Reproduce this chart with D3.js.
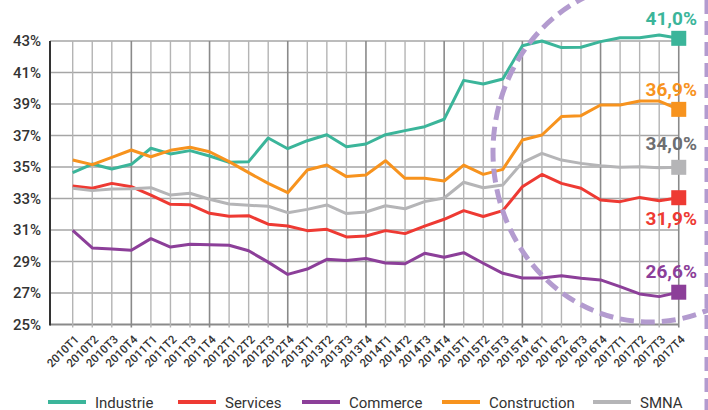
<!DOCTYPE html>
<html>
<head>
<meta charset="utf-8">
<script src="https://cdn.jsdelivr.net/npm/d3@7"></script>
<style>
  body { margin: 0; background: #fff; }
  svg { display: block; font-family: Roboto, "Open Sans", sans-serif; }
</style>
</head>
<body>
<svg id="chart" width="708" height="410"></svg>
<script>
// Quarters shown on the x axis.
var quarters = [
  '2010T1', '2010T2', '2010T3', '2010T4', '2011T1', '2011T2', '2011T3', '2011T4',
  '2012T1', '2012T2', '2012T3', '2012T4', '2013T1', '2013T2', '2013T3', '2013T4',
  '2014T1', '2014T2', '2014T3', '2014T4', '2015T1', '2015T2', '2015T3', '2015T4',
  '2016T1', '2016T2', '2016T3', '2016T4', '2017T1', '2017T2', '2017T3', '2017T4'
];

// Values (%).
var industrie = [34.64, 35.19, 34.87, 35.17, 36.19, 35.83, 36.04, 35.70, 35.30, 35.34, 36.84, 36.16,
  36.67, 37.05, 36.29, 36.46, 37.05, 37.31, 37.56, 38.03, 40.50, 40.27, 40.59, 42.70,
  43.00, 42.58, 42.60, 42.96, 43.21, 43.21, 43.38, 43.17];
var services = [33.79, 33.65, 33.96, 33.75, 33.22, 32.63, 32.61, 32.06, 31.87, 31.91, 31.37, 31.25,
  30.96, 31.04, 30.56, 30.62, 30.96, 30.77, 31.25, 31.68, 32.23, 31.86, 32.23, 33.75,
  34.53, 33.96, 33.65, 32.90, 32.80, 33.07, 32.86, 33.05];
var commerce = [30.98, 29.86, 29.79, 29.71, 30.45, 29.92, 30.09, 30.07, 30.03, 29.68, 28.96, 28.18,
  28.52, 29.14, 29.07, 29.19, 28.90, 28.86, 29.52, 29.27, 29.56, 28.89, 28.25, 27.95,
  27.95, 28.10, 27.93, 27.83, 27.40, 26.94, 26.77, 27.05];
var construction = [35.44, 35.15, 35.61, 36.08, 35.65, 36.06, 36.25, 35.97, 35.34, 34.64, 33.96, 33.37,
  34.81, 35.13, 34.39, 34.49, 35.40, 34.28, 34.28, 34.11, 35.12, 34.53, 34.85, 36.71,
  37.03, 38.20, 38.26, 38.94, 38.94, 39.19, 39.19, 38.66];
var smna = [33.65, 33.50, 33.60, 33.62, 33.69, 33.22, 33.33, 32.95, 32.65, 32.57, 32.51, 32.10,
  32.31, 32.59, 32.04, 32.14, 32.54, 32.35, 32.80, 33.03, 34.03, 33.68, 33.86, 35.28,
  35.87, 35.44, 35.23, 35.08, 34.98, 35.02, 34.96, 34.98];

var seriesNames = ['Industrie', 'Services', 'Commerce', 'Construction', 'SMNA'];
var endLabels = ['41,0%', '31,9%', '26,6%', '36,9%', '34,0%'];
var yTicks = [25, 27, 29, 31, 33, 35, 37, 39, 41, 43];

var svg = d3.select('#chart');

var lineColors = {
  'Industrie': '#3bb59a',
  'Services': '#ee3a33',
  'Commerce': '#8c3f99',
  'Construction': '#f7931e',
  'SMNA': '#b5b5b7'
};
var labelColors = {
  'Industrie': '#3bb59a',
  'Services': '#ee3a33',
  'Commerce': '#8c3f99',
  'Construction': '#f7931e',
  'SMNA': '#6d6e71'
};
// Offset of the end label baseline from the end square.
var labelOffset = {
  'Industrie': -13,
  'Services': 27,
  'Commerce': -14,
  'Construction': -13,
  'SMNA': -17
};

var seriesData = [industrie, services, commerce, construction, smna];
var series = seriesNames.map(function(name, i) {
  return { name: name, values: seriesData[i], label: endLabels[i] };
});

var axisLeft = 50;
var x = d3.scalePoint()
  .domain(quarters)
  .range([72.7, 678.75]);
var y = d3.scaleLinear()
  .domain([25, 43])
  .range([324.5, 41]);

// Grid.
var grid = svg.append('g').attr('class', 'grid');
grid.selectAll('line.h')
  .data(yTicks)
  .enter().append('line')
    .attr('class', 'h')
    .attr('x1', axisLeft)
    .attr('x2', x(quarters[quarters.length - 1]))
    .attr('y1', function(d) { return y(d); })
    .attr('y2', function(d) { return y(d); })
    .attr('stroke', function(d) { return d == 25 ? '#8a8a8a' : '#a6a6a6'; })
    .attr('stroke-width', function(d) { return d == 25 ? 2 : 1.4; });

grid.selectAll('line.v')
  .data(quarters)
  .enter().append('line')
    .attr('class', 'v')
    .attr('x1', function(d) { return x(d); })
    .attr('x2', function(d) { return x(d); })
    .attr('y1', y(43))
    .attr('y2', y(25) + 3)
    .attr('stroke', function(d) { return /T4$/.test(d) ? '#8a8a8a' : '#b4b4b4'; })
    .attr('stroke-width', function(d) { return /T4$/.test(d) ? 1.6 : 1.4; });

// Left axis line.
svg.append('line')
  .attr('x1', axisLeft).attr('x2', axisLeft)
  .attr('y1', y(43)).attr('y2', y(25) + 1)
  .attr('stroke', '#333').attr('stroke-width', 2);

// Y labels.
svg.append('g')
  .selectAll('text')
  .data(yTicks)
  .enter().append('text')
    .attr('x', 41)
    .attr('y', function(d) { return y(d); })
    .attr('dy', '0.36em')
    .attr('text-anchor', 'end')
    .attr('font-size', 15)
    .attr('font-weight', 500)
    .attr('fill', '#333')
    .text(function(d) { return d + '%'; });

// X labels, rotated.
svg.append('g')
  .selectAll('text')
  .data(quarters)
  .enter().append('text')
    .attr('transform', function(d) { return 'translate(' + (x(d) + 7) + ',340) rotate(-45)'; })
    .attr('text-anchor', 'end')
    .attr('font-size', 11.5)
    .attr('font-weight', 500)
    .attr('fill', '#333')
    .text(function(d) { return d; });

// Lines.
var line = d3.line()
  .x(function(d, i) { return x(quarters[i]); })
  .y(function(d) { return y(d); });

svg.append('g')
  .selectAll('path')
  .data(series)
  .enter().append('path')
    .attr('d', function(d) { return line(d.values); })
    .attr('fill', 'none')
    .attr('stroke', function(d) { return lineColors[d.name]; })
    .attr('stroke-width', 3)
    .attr('stroke-linejoin', 'round');

// Dashed highlight ellipse.
svg.append('ellipse')
  .attr('cx', 650).attr('cy', 152)
  .attr('rx', 157).attr('ry', 170)
  .attr('fill', 'none')
  .attr('stroke', '#b39bcf')
  .attr('stroke-width', 5)
  .attr('stroke-dasharray', '14 7');
svg.append('line')
  .attr('x1', 706.5).attr('x2', 706.5)
  .attr('y1', 0).attr('y2', 410)
  .attr('stroke', '#b39bcf')
  .attr('stroke-width', 4)
  .attr('stroke-dasharray', '14 7');

// End squares and labels.
var last = quarters[quarters.length - 1];
var ends = svg.append('g');
ends.selectAll('rect')
  .data(series)
  .enter().append('rect')
    .attr('x', x(last) - 7.5)
    .attr('y', function(d) { return y(d.values[d.values.length - 1]) - 7.5; })
    .attr('width', 15)
    .attr('height', 15)
    .attr('fill', function(d) { return lineColors[d.name]; });
ends.selectAll('text')
  .data(series)
  .enter().append('text')
    .attr('x', 697)
    .attr('y', function(d) { return y(d.values[d.values.length - 1]) + labelOffset[d.name]; })
    .attr('text-anchor', 'end')
    .attr('font-size', 19)
    .attr('font-weight', 700)
    .attr('fill', function(d) { return labelColors[d.name]; })
    .text(function(d) { return d.label; });

// Legend.
var legendX = [48, 178, 302, 442, 593];
var legend = svg.append('g')
  .selectAll('g')
  .data(series)
  .enter().append('g')
    .attr('transform', function(d, i) { return 'translate(' + legendX[i] + ',402)'; });
legend.append('line')
  .attr('x1', 0).attr('x2', 38)
  .attr('stroke', function(d) { return lineColors[d.name]; })
  .attr('stroke-width', 4);
legend.append('text')
  .attr('x', 47)
  .attr('y', 5.5)
  .attr('font-size', 15)
  .attr('font-weight', 400)
  .attr('fill', '#333')
  .text(function(d) { return d.name; });
</script>
</body>
</html>
